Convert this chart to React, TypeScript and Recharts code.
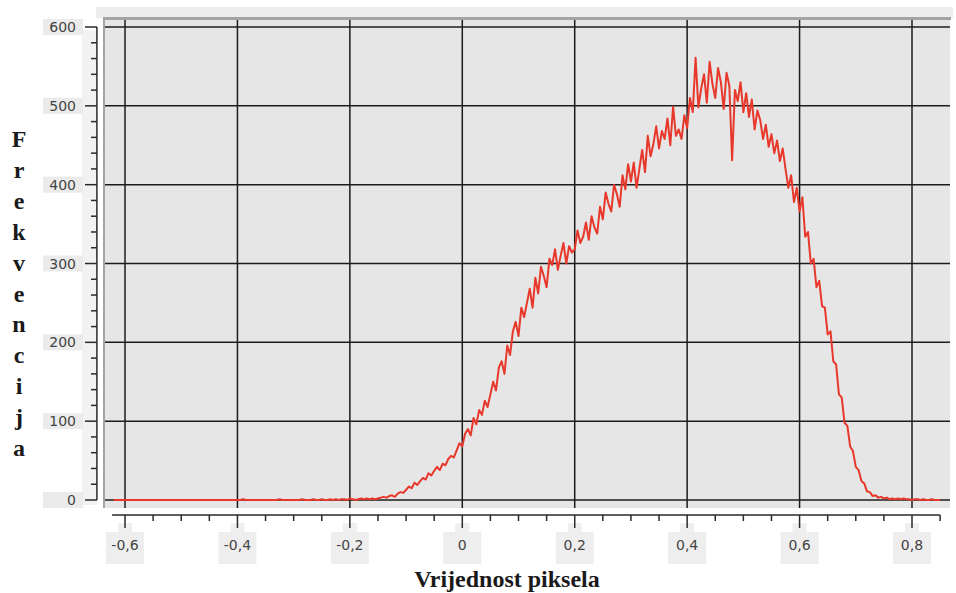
import React from "react";
import { LineChart, Line, XAxis, YAxis, ReferenceLine } from "recharts";

// Histogram bins: bin centres start at binStart with a fixed bin width
const binStart = -0.62;
const binWidth = 0.005;

// Frequencies, one per bin (-0.62 ... 0.85)
const frequencies: number[] = [
  // -0.62 .. -0.155
  0, 0, 0, 0, 0, 0, 0, 0, 0, 0,
  0, 0, 0, 0, 0, 0, 0, 0, 0, 0,
  0, 0, 0, 0, 0, 0, 0, 0, 0, 0,
  0, 0, 0, 0, 0, 0, 0, 0, 0, 0,
  0, 0, 0, 0, 0, 0, 1, 0, 0, 0,
  0, 0, 0, 0, 0, 0, 0, 0, 0, 1,
  0, 0, 0, 0, 0, 0, 0, 1, 0, 0,
  0, 1, 0, 0, 1, 0, 0, 1, 0, 1,
  0, 1, 1, 0, 2, 1, 0, 1, 2, 1,
  2, 1, 2, 1,
  // -0.15 .. -0.005
  2, 3, 4, 3, 5, 6, 4, 8, 10, 9,
  13, 17, 15, 22, 19, 24, 28, 26, 34, 31,
  37, 42, 38, 46, 44, 52, 56, 54, 63, 72,
  // 0.000 .. 0.195
  68, 84, 90, 82, 104, 96, 114, 108, 126, 118,
  134, 150, 139, 168, 176, 160, 196, 184, 214, 226,
  208, 244, 232, 250, 268, 244, 282, 262, 296, 284,
  270, 306, 298, 318, 292, 310, 326, 300, 322, 314,
  // 0.200 .. 0.395
  318, 342, 326, 334, 352, 330, 360, 346, 338, 372,
  356, 390, 376, 366, 400, 388, 372, 412, 394, 426,
  404, 428, 396, 420, 444, 416, 462, 436, 452, 474,
  446, 468, 458, 484, 450, 499, 462, 470, 458, 488,
  // 0.400 .. 0.595
  472, 510, 492, 561, 498, 522, 540, 504, 556, 528,
  510, 548, 530, 496, 542, 526, 431, 520, 506, 530,
  492, 516, 486, 508, 470, 494, 482, 458, 476, 448,
  464, 440, 456, 430, 446, 420, 396, 412, 378, 396,
  // 0.600 .. 0.780
  366, 384, 334, 340, 300, 306, 270, 278, 246, 244,
  210, 214, 176, 172, 134, 130, 98, 94, 68, 62,
  42, 38, 24, 21, 11, 10, 5, 6, 3, 4,
  2, 3, 1, 2, 1, 2, 1,
  // 0.785 .. 0.85
  2, 1, 1, 0, 1, 1, 0, 1, 0, 0, 1, 0, 0, 0,
];

const xTicks = [
  -0.6, -0.55, -0.5, -0.45, -0.4, -0.35, -0.3, -0.25, -0.2, -0.15, -0.1, -0.05,
  0, 0.05, 0.1, 0.15, 0.2, 0.25, 0.3, 0.35, 0.4, 0.45, 0.5, 0.55, 0.6, 0.65,
  0.7, 0.75, 0.8, 0.85,
];
const xGrid = [-0.6, -0.4, -0.2, 0, 0.2, 0.4, 0.6, 0.8];
const yTicks = [
  0, 20, 40, 60, 80, 100, 120, 140, 160, 180, 200, 220, 240, 260, 280, 300,
  320, 340, 360, 380, 400, 420, 440, 460, 480, 500, 520, 540, 560, 580, 600,
];
const yGrid = [0, 100, 200, 300, 400, 500, 600];

const xTitle = "Vrijednost piksela";
const yTitle = "Frekvencija";

const data = frequencies.map((f, i) => ({
  v: Number((binStart + i * binWidth).toFixed(3)),
  f,
}));

const tickFont = "'DejaVu Sans', sans-serif";

const isMajorX = (v: number) => {
  const t = Math.round(v * 10);
  return Math.abs(v * 10 - t) < 1e-6 && t % 2 === 0;
};
const fmtX = (v: number) =>
  Math.abs(v) < 1e-9 ? "0" : v.toFixed(1).replace(".", ",");

const XTick = (props: any) => {
  const { x, y, payload } = props;
  const v = payload.value as number;
  const major = isMajorX(v);
  return (
    <g>
      {major && (
        <>
          <rect x={x - 7} y={y + 15} width={14} height={10} fill="#efefef" />
          <rect x={x - 19} y={y + 24} width={38} height={32} fill="#eeeeee" />
        </>
      )}
      <line
        x1={x}
        x2={x}
        y1={y + 7}
        y2={y + (major ? 20 : 13)}
        stroke="#2a2a2a"
        strokeWidth={1.5}
      />
      {major && (
        <text
          x={x}
          y={y + 42}
          textAnchor="middle"
          fontFamily={tickFont}
          fontSize={14}
          fill="#444"
        >
          {fmtX(v)}
        </text>
      )}
    </g>
  );
};

const YTick = (props: any) => {
  const { x, y, payload } = props;
  const v = payload.value as number;
  const major = v % 100 === 0;
  return (
    <g>
      {major && (
        <rect x={x - 62} y={y - 8} width={40} height={16} fill="#ebebeb" />
      )}
      <line
        x1={x - 8 - (major ? 12 : 6)}
        x2={x - 8}
        y1={y}
        y2={y}
        stroke="#2a2a2a"
        strokeWidth={1.5}
      />
      {major && (
        <text
          x={x - 29}
          y={y + 5}
          textAnchor="end"
          fontFamily={tickFont}
          fontSize={14}
          fill="#444"
        >
          {v}
        </text>
      )}
    </g>
  );
};

const abs = (
  left: number,
  top: number,
  width: number,
  height: number,
  background: string
): React.CSSProperties => ({
  position: "absolute",
  left,
  top,
  width,
  height,
  background,
});

export default function App() {
  const letters = yTitle.split("");
  return (
    <div
      style={{
        position: "absolute",
        left: 0,
        top: 0,
        width: 956,
        height: 593,
        background: "#ffffff",
        overflow: "hidden",
      }}
    >
      <div style={abs(96, 7, 857, 11, "#ededed")} />
      <div style={abs(82, 30, 15, 475, "#f2f2f2")} />
      <div style={abs(103, 17, 848, 3, "#a4a4a4")} />
      <div style={abs(103, 17, 2, 491, "#a4a4a4")} />
      <div style={abs(105, 20, 845, 488, "#e6e6e6")} />
      <div style={{ position: "absolute", left: 0, top: 0 }}>
        <LineChart
          width={956}
          height={593}
          data={data}
          margin={{ top: 20, right: 6, left: 0, bottom: 0 }}
        >
          <XAxis
            type="number"
            dataKey="v"
            domain={[-0.6356, 0.8676]}
            allowDataOverflow
            ticks={xTicks}
            interval={0}
            axisLine={false}
            tickLine={false}
            tickSize={0}
            tickMargin={0}
            height={85}
            tick={XTick}
          />
          <YAxis
            type="number"
            domain={[-10.15, 608.9]}
            allowDataOverflow
            ticks={yTicks}
            interval={0}
            axisLine={false}
            tickLine={false}
            tickSize={0}
            tickMargin={0}
            width={105}
            tick={YTick}
          />
          {yGrid.map((g) => (
            <ReferenceLine
              key={"y" + g}
              y={g}
              stroke="#1c1c1c"
              strokeWidth={1.5}
            />
          ))}
          {xGrid.map((g) => (
            <ReferenceLine
              key={"x" + g}
              x={g}
              stroke="#1c1c1c"
              strokeWidth={1.5}
            />
          ))}
          <Line
            type="linear"
            dataKey="f"
            stroke="#e8382b"
            strokeWidth={2}
            strokeLinejoin="round"
            dot={false}
            isAnimationActive={false}
          />
          <ReferenceLine
            segment={[
              { x: -0.65, y: 0 },
              { x: -0.65, y: 600 },
            ]}
            stroke="#2a2a2a"
            strokeWidth={1.5}
            ifOverflow="visible"
          />
          <ReferenceLine
            segment={[
              { x: -0.623, y: -19 },
              { x: 0.85, y: -19 },
            ]}
            stroke="#2a2a2a"
            strokeWidth={1.5}
            ifOverflow="visible"
          />
        </LineChart>
      </div>
      <svg
        width={956}
        height={593}
        style={{ position: "absolute", left: 0, top: 0, pointerEvents: "none" }}
      >
        {letters.map((ch, i) => (
          <text
            key={i}
            x={19}
            y={147 + i * 30.9}
            textAnchor="middle"
            fontFamily="'Liberation Serif', 'Times New Roman', serif"
            fontWeight="bold"
            fontSize={24}
            fill="#1a1a1a"
          >
            {ch}
          </text>
        ))}
        <text
          x={507}
          y={587}
          textAnchor="middle"
          fontFamily="'Liberation Serif', 'Times New Roman', serif"
          fontWeight="bold"
          fontSize={24}
          fill="#1a1a1a"
        >
          {xTitle}
        </text>
      </svg>
    </div>
  );
}
